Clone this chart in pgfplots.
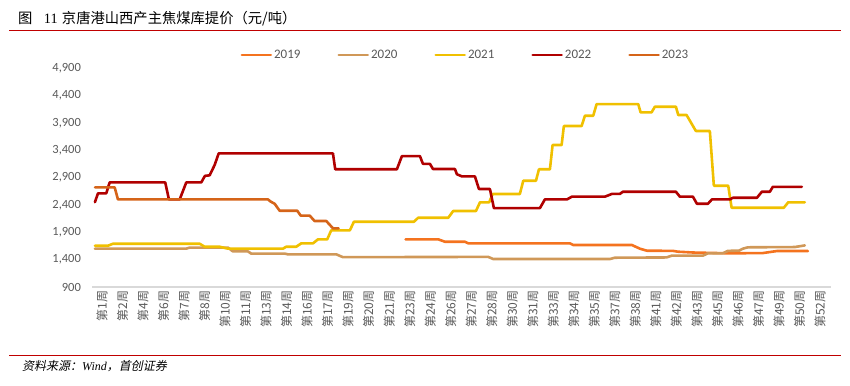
\documentclass[border=0pt]{standalone}
\usepackage{fontspec}
\usepackage{pgfplots}
\pgfplotsset{compat=1.18}
\setmainfont{Carlito}
\newfontfamily\cjk{Noto Sans CJK SC}
\newfontfamily\cjksl[FakeSlant=0.2]{Noto Sans CJK SC}
\newfontfamily\seri{Liberation Serif}
\definecolor{c2019}{HTML}{F4731F}
\definecolor{c2020}{HTML}{D09858}
\definecolor{c2021}{HTML}{F0C000}
\definecolor{c2022}{HTML}{B00000}
\definecolor{c2023}{HTML}{D56419}
\definecolor{txtgray}{HTML}{595959}
\definecolor{axgray}{HTML}{D9D9D9}
\definecolor{redline}{HTML}{C00000}
\begin{document}
\begin{tikzpicture}
\useasboundingbox (0bp,0bp) rectangle (850bp,-386bp);
\node[anchor=west, inner sep=0pt, font=\cjk\fontsize{14.3bp}{16bp}\selectfont] at (18bp,-19bp) {图\hspace{0.8em}{\seri 11}\hspace{0.3em}京唐港山西产主焦煤库提价（元/吨）};
\draw[redline, line width=1.2bp] (9bp,-30.7bp) -- (841bp,-30.7bp);
\draw[redline, line width=1.2bp] (9bp,-355.7bp) -- (841bp,-355.7bp);
\node[anchor=west, inner sep=0pt, font=\fontsize{12bp}{14bp}\selectfont] at (22bp,-366bp) {\cjksl 资料来源：{\seri\itshape Wind}，首创证券};
\begin{axis}[
  at={(92.4bp,-287bp)}, anchor=south west,
  scale only axis, width=738.6bp, height=219bp,
  xmin=-0.25, xmax=71.75, ymin=900, ymax=4900,
  separate axis lines,
  axis x line*=bottom, axis y line*=left,
  x axis line style={draw=axgray, line width=1.2bp, -},
  y axis line style={draw=none},
  major tick length=0pt,
  ytick={900,1400,...,4900},
  yticklabel style={font=\fontsize{12.5bp}{14bp}\selectfont, text=txtgray, xshift=-8bp},
  /pgf/number format/.cd, fixed, precision=0, 1000 sep={,}, assume math mode=true,
  /pgfplots/.cd,
  xtick={0,2,...,70},
  xticklabels={第1周,第2周,第4周,第6周,第7周,第8周,第10周,第11周,第13周,第14周,第16周,第17周,第19周,第20周,第21周,第23周,第24周,第26周,第27周,第28周,第30周,第31周,第33周,第34周,第35周,第37周,第38周,第41周,第42周,第43周,第45周,第46周,第47周,第49周,第50周,第52周},
  xticklabel style={font=\cjk\fontsize{12bp}{14bp}\selectfont, text=txtgray, rotate=90, anchor=east, xshift=0bp, yshift=-7bp},
  legend columns=5,
  legend style={at={(0.505,1.059)}, anchor=center, draw=none, fill=none,
    font=\fontsize{13bp}{15bp}\selectfont, text=txtgray,
    /tikz/every even column/.append style={column sep=35bp}},
  legend image code/.code={\draw[#1, line width=2.6bp, line cap=round] (0bp,0bp) -- (29bp,0bp);},
  every axis plot/.append style={line width=2.6bp, line join=round, line cap=round},
]
\addplot[c2019] coordinates {(30.28,1771) (33.46,1771) (34.11,1727) (36.06,1727) (36.39,1698) (46.30,1698) (46.62,1667) (52.34,1667) (53.12,1600) (53.80,1563) (56.34,1560) (56.83,1545) (58.29,1530) (61.89,1515) (65.11,1520) (66.47,1557) (69.50,1557)};
\addlegendentry{2019}
\addplot[c2020] coordinates {(0,1600) (8.90,1600) (9.23,1620) (12.96,1620) (13.45,1550) (14.91,1550) (15.23,1510) (18.49,1510) (18.81,1497) (23.52,1497) (24.17,1445) (38.34,1450) (38.82,1411) (50.20,1411) (50.68,1435) (55.72,1440) (56.21,1472) (59.26,1472) (59.75,1515) (61.21,1515) (61.70,1560) (62.80,1565) (63.16,1600) (63.65,1625) (68.23,1630) (69.20,1660)};
\addlegendentry{2020}
\addplot[c2021] coordinates {(0,1654) (1.27,1654) (1.75,1690) (10.21,1690) (10.69,1636) (12.15,1636) (12.96,1600) (18.32,1600) (18.65,1636) (19.62,1636) (20.11,1697) (21.25,1697) (21.74,1770) (22.64,1770) (23.03,1935) (24.85,1935) (25.24,2092) (31.09,2092) (31.51,2165) (34.44,2165) (34.92,2288) (37.14,2288) (37.53,2447) (38.43,2447) (38.76,2598) (41.42,2598) (41.75,2841) (42.99,2841) (43.28,3050) (44.35,3050) (44.61,3493) (45.49,3493) (45.71,3840) (47.44,3840) (47.76,4028) (48.57,4028) (48.90,4240) (52.96,4240) (53.19,4090) (54.26,4090) (54.58,4193) (56.63,4193) (56.86,4041) (57.67,4041) (58.58,3749) (59.94,3749) (60.33,2750) (61.73,2750) (62.06,2348) (67.15,2348) (67.58,2447) (69.20,2447)};
\addlegendentry{2021}
\addplot[c2022] coordinates {(0,2450) (0.29,2610) (1.10,2610) (1.43,2810) (6.85,2810) (7.21,2500) (8.26,2500) (8.90,2810) (10.36,2810) (10.72,2930) (11.18,2940) (11.67,3130) (12.06,3340) (23.20,3340) (23.42,3050) (29.43,3050) (29.92,3290) (31.68,3290) (31.97,3150) (32.65,3150) (32.95,3055) (35.09,3055) (35.28,2960) (35.77,2920) (37.04,2920) (37.43,2690) (38.50,2690) (38.89,2340) (43.37,2340) (43.86,2500) (46.01,2500) (46.49,2550) (49.71,2550) (50.39,2600) (51.17,2600) (51.46,2640) (56.63,2640) (57.02,2550) (58.29,2550) (58.68,2420) (59.75,2420) (60.14,2500) (61.89,2500) (62.19,2530) (64.53,2530) (65.01,2640) (65.79,2640) (66.08,2730) (68.91,2730)};
\addlegendentry{2022}
\addplot[c2023] coordinates {(0,2720) (1.92,2720) (2.24,2500) (16.86,2500) (17.13,2460) (17.52,2420) (18.00,2293) (19.72,2293) (20.05,2205) (20.93,2205) (21.41,2105) (22.55,2105) (23.20,1972) (23.75,1972)};
\addlegendentry{2023}
\end{axis}
\end{tikzpicture}
\end{document}
